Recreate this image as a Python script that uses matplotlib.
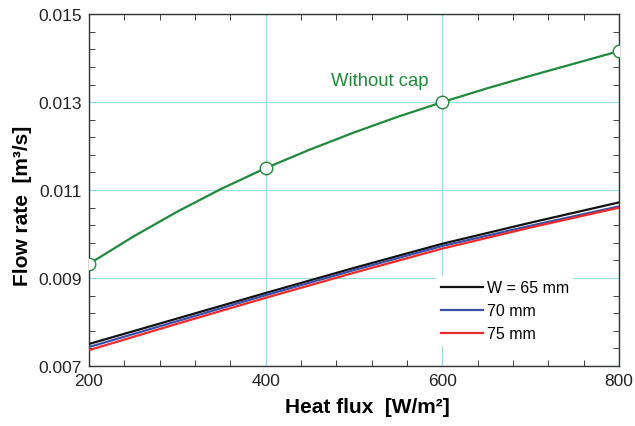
import matplotlib

matplotlib.use("Agg")
import matplotlib.pyplot as plt
from matplotlib.ticker import MultipleLocator

plt.rcParams["font.family"] = ["Liberation Sans", "DejaVu Sans"]

# heat flux [W/m2]
heat_flux = [200, 400, 600, 800]
nocap_markers = [0.00932, 0.01150, 0.01300, 0.01416]

# smooth "without cap" curve
nocap_x = [200, 250, 300, 350, 400, 450, 500, 550, 600, 650, 700, 750, 800]
nocap_y = [0.00932, 0.00994, 0.01051, 0.01103, 0.01150, 0.01192, 0.01231,
           0.01267, 0.01300, 0.01331, 0.01360, 0.01388, 0.01416]

w_x = [200, 300, 400, 500, 600, 700, 800]
w65 = [0.00750, 0.00808, 0.00866, 0.00923, 0.00978, 0.01026, 0.01072]
w70 = [0.00743, 0.00802, 0.00861, 0.00918, 0.00973, 0.01019, 0.01063]
w75 = [0.00736, 0.00796, 0.00855, 0.00912, 0.00967, 0.01015, 0.01060]

series = [("W = 65 mm", w65, "#111111"),
          ("70 mm", w70, "#3a4fa8"),
          ("75 mm", w75, "#ee2b2b")]

green = "#1f8a3c"
grid_c = "#9adbe6"

fig = plt.figure(figsize=(6.35, 4.27), dpi=100)
ax = fig.add_axes([0.140, 0.1405, 0.835, 0.824])

ax.plot(nocap_x, nocap_y, color=green, lw=1.6, zorder=3)
ax.plot(heat_flux, nocap_markers, ls="none", marker="o", ms=9,
        mfc="white", mec=green, mew=1.0, zorder=4)
ax.text(380 / 635, 1 - 82 / 427, "Without cap", color=green, fontsize=13.3,
        ha="center", va="center", transform=fig.transFigure)

for label, vals, col in series:
    ax.plot(w_x, vals, color=col, lw=1.6, label=label, zorder=3)

ax.set_xlim(200, 800)
ax.set_ylim(0.007, 0.015)
ax.xaxis.set_major_locator(MultipleLocator(200))
ax.xaxis.set_minor_locator(MultipleLocator(40))
ax.yaxis.set_major_locator(MultipleLocator(0.002, offset=0.001))
ax.yaxis.set_minor_locator(MultipleLocator(0.0004, offset=0.0002))
ax.yaxis.set_major_formatter(lambda v, pos: f"{v:.3f}")
ax.tick_params(which="both", direction="in", top=True, right=True,
               labelsize=12.5, colors="#222222")
ax.tick_params(which="major", length=0, pad=5)
ax.tick_params(which="minor", length=4)
ax.grid(True, which="major", color=grid_c, lw=0.9)
for s in ax.spines.values():
    s.set_color("#333333")
    s.set_linewidth(1.0)

ax.set_xlabel("Heat flux  [W/m²]", fontsize=15, fontweight="bold")
ax.set_ylabel("Flow rate  [m³/s]", fontsize=15, fontweight="bold")
ax.xaxis.set_label_coords(0.525, -0.088)
ax.yaxis.set_label_coords(-0.108, 0.459)

leg = ax.legend(loc="upper left", bbox_to_anchor=(0.655, 0.257), fontsize=11.5,
                frameon=True, fancybox=False, handlelength=2.6,
                handletextpad=0.25, labelspacing=0.5, borderpad=0.3,
                borderaxespad=0)
leg.get_frame().set_edgecolor("none")
leg.get_frame().set_facecolor("white")
leg.get_frame().set_alpha(1)

fig.savefig("out.png", dpi=100)
